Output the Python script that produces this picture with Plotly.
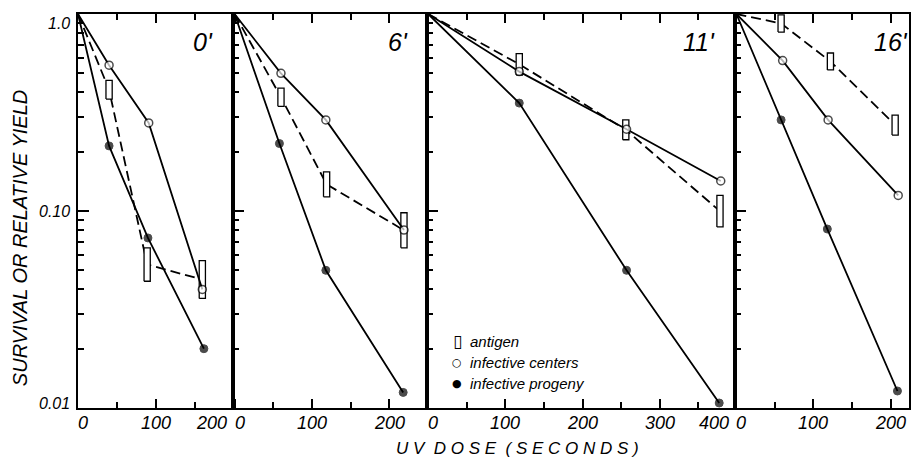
import plotly.graph_objects as go

# ---------------- data ----------------
panel_labels = ["0'", "6'", "11'", "16'"]

# infective centers (open circles)
centers_dose = [[0, 40, 91, 160], [0, 60, 118, 219], [0, 118, 257, 379], [0, 60, 119, 210]]
centers_val = [[1.0, 0.55, 0.28, 0.040], [1.0, 0.50, 0.29, 0.080],
               [1.0, 0.51, 0.26, 0.142], [1.0, 0.58, 0.29, 0.12]]

# infective progeny (filled circles)
progeny_dose = [[0, 40, 90, 162], [0, 58, 118, 218], [0, 118, 257, 377], [0, 58, 118, 209]]
progeny_val = [[1.0, 0.214, 0.073, 0.020], [1.0, 0.22, 0.050, 0.012],
               [1.0, 0.353, 0.050, 0.0106], [1.0, 0.29, 0.081, 0.0122]]

# antigen (open bars: low / high of range)
antigen_dose = [[40, 89, 160], [60, 119, 219], [118, 256, 378], [58, 122, 206]]
antigen_lo = [[0.37, 0.044, 0.036], [0.34, 0.118, 0.065], [0.49, 0.23, 0.083], [0.81, 0.52, 0.243]]
antigen_hi = [[0.46, 0.065, 0.056], [0.42, 0.158, 0.098], [0.63, 0.29, 0.12], [0.99, 0.634, 0.307]]

x_ranges = [[0, 199], [-2.5, 249], [-1.3, 398], [-1.3, 224]]
x_tick_values = [[0, 100, 200], [0, 100, 200], [0, 100, 200, 300, 400], [0, 100, 200]]
x_tick_labels = [["0", "100", "200"], ["0", "100", "200"],
                 ["0", "100", "200", "300", "400"], ["0", "100", "200"]]
y_tick_values = [1.0, 0.10, 0.01]
y_tick_labels = ["1.0", "0.10", "0.01"]
y_minor_values = [0.02, 0.03, 0.04, 0.05, 0.06, 0.07, 0.08, 0.09,
                  0.2, 0.3, 0.4, 0.5, 0.6, 0.7, 0.8, 0.9]

legend_labels = ["antigen", "infective centers", "infective progeny"]
legend_glyphs = ["\u25AF", "\u25CB", "\u25CF"]
legend_glyph_sizes = [17, 11, 11]

# ---------------- layout geometry ----------------
W, H = 911, 457
ML, MR, MT, MB = 78, 0, 14, 49
panel_px = [(78, 233), (233, 428), (428, 737), (737, 911)]
pw = W - ML - MR
ph = H - MT - MB
domains = [[(a - ML) / pw, (b - ML) / pw] for a, b in panel_px]
label_pos = [0.806, 0.851, 0.883, 0.897]

FONT = "Liberation Sans"
BAR_HALF = 4

fig = go.Figure()
line_w = 1.8

for i in range(4):
    xa = "x" if i == 0 else f"x{i+1}"
    ya = "y" if i == 0 else f"y{i+1}"
    mids = [(lo * hi) ** 0.5 for lo, hi in zip(antigen_lo[i], antigen_hi[i])]
    fig.add_trace(go.Scatter(x=[0] + antigen_dose[i], y=[1.0] + mids, mode="lines",
                             line=dict(color="black", width=line_w, dash="10px,5px"),
                             xaxis=xa, yaxis=ya, showlegend=False, hoverinfo="skip"))
    rx, ry = [], []
    for d, lo, hi in zip(antigen_dose[i], antigen_lo[i], antigen_hi[i]):
        rx += [d - BAR_HALF, d + BAR_HALF, d + BAR_HALF, d - BAR_HALF, d - BAR_HALF, None]
        ry += [lo, lo, hi, hi, lo, None]
    fig.add_trace(go.Scatter(x=rx, y=ry, mode="lines", fill="toself", fillcolor="white",
                             line=dict(color="black", width=1.3),
                             xaxis=xa, yaxis=ya, showlegend=False, hoverinfo="skip"))
    fig.add_trace(go.Scatter(x=centers_dose[i], y=centers_val[i], mode="lines+markers",
                             line=dict(color="black", width=line_w),
                             marker=dict(symbol="circle", size=[0, 8, 8, 8], color="white",
                                         line=dict(color="black", width=1.5)),
                             xaxis=xa, yaxis=ya, showlegend=False))
    fig.add_trace(go.Scatter(x=progeny_dose[i], y=progeny_val[i], mode="lines+markers",
                             line=dict(color="black", width=line_w),
                             marker=dict(symbol="circle", size=[0, 8, 8, 8], color="black",
                                         line=dict(color="black", width=1)),
                             xaxis=xa, yaxis=ya, showlegend=False))

annotations = []
for i in range(4):
    xk = "xaxis" if i == 0 else f"xaxis{i+1}"
    yk = "yaxis" if i == 0 else f"yaxis{i+1}"
    ya_name = "y" if i == 0 else f"y{i+1}"
    xa_name = "x" if i == 0 else f"x{i+1}"
    fig.layout[xk] = dict(domain=domains[i], range=x_ranges[i], anchor=ya_name,
                          showgrid=False, zeroline=False, showline=True, linecolor="black",
                          linewidth=1.8, mirror="ticks", ticks="inside", tickmode="linear",
                          tick0=0, dtick=100, ticklen=9, tickwidth=1.5, tickcolor="black",
                          minor=dict(ticks="inside", tickmode="linear", dtick=50, tick0=0,
                                     ticklen=6, tickwidth=1.5, tickcolor="black"),
                          showticklabels=False, fixedrange=True)
    fig.layout[yk] = dict(domain=[0, 1], type="log", range=[-2, 0], anchor=xa_name,
                          showgrid=False, zeroline=False, showline=True, linecolor="black",
                          linewidth=1.8, mirror=True, ticks="inside", tickmode="array",
                          tickvals=y_tick_values, ticklen=11, tickwidth=1.5,
                          tickcolor="black",
                          minor=dict(ticks="inside", tickmode="array", tickvals=y_minor_values,
                                     ticklen=6, tickwidth=1.5, tickcolor="black"),
                          showticklabels=False, fixedrange=True)
    lo_r, hi_r = x_ranges[i]
    for v, t in zip(x_tick_values[i], x_tick_labels[i]):
        if v == 0:
            ax_x, anchor, shift = v, "left", -2
        elif v > hi_r - 10:
            ax_x, anchor, shift = hi_r, "right", -4
        else:
            ax_x, anchor, shift = v, "center", 0
        annotations.append(dict(x=ax_x, xref=xa_name, y=0, yref="paper", text=t,
                                showarrow=False, xanchor=anchor, yanchor="middle",
                                xshift=shift, yshift=-15,
                                font=dict(family=FONT, size=18, color="black", style="italic")))
    annotations.append(dict(x=label_pos[i], xref=f"{xa_name} domain", y=0.93, yref="paper",
                            text=panel_labels[i], showarrow=False, xanchor="center",
                            yanchor="middle",
                            font=dict(family=FONT, size=25, color="black", style="italic")))

y_dom = [1.0, 0.5, 0.0]
y_shift = [-9, 0, 5]
for v, t, yd, ys in zip(y_tick_values, y_tick_labels, y_dom, y_shift):
    annotations.append(dict(x=0, xref="paper", y=yd, yref="y domain", text=t,
                            showarrow=False, xanchor="right", yanchor="middle",
                            xshift=-6, yshift=ys,
                            font=dict(family=FONT, size=16, color="black", style="italic")))

annotations.append(dict(x=(20 - ML) / pw, xref="paper", y=(MT + ph - 238) / ph, yref="paper",
                        text="SURVIVAL OR RELATIVE YIELD", textangle=-90, showarrow=False,
                        xanchor="center", yanchor="middle",
                        font=dict(family=FONT, size=20, color="black", style="italic")))
annotations.append(dict(x=(519 - ML) / pw, xref="paper", y=-(449 - (MT + ph)) / ph,
                        yref="paper",
                        text="U V  D O S E  ( S E C O N D S )", showarrow=False,
                        xanchor="center", yanchor="middle",
                        font=dict(family=FONT, size=17, color="black", style="italic")))

leg_y = [341, 362, 383]
for g, gs, t, py in zip(legend_glyphs, legend_glyph_sizes, legend_labels, leg_y):
    yy = (MT + ph - py) / ph
    annotations.append(dict(x=(458 - ML) / pw, xref="paper", y=yy, yref="paper", text=g,
                            showarrow=False, xanchor="center", yanchor="middle",
                            font=dict(family="DejaVu Sans", size=gs, color="black")))
    annotations.append(dict(x=(469 - ML) / pw, xref="paper", y=yy, yref="paper", text=t,
                            showarrow=False, xanchor="left", yanchor="middle",
                            font=dict(family=FONT, size=15, color="black", style="italic")))

fig.update_layout(width=W, height=H, margin=dict(l=ML, r=MR, t=MT, b=MB),
                  plot_bgcolor="white", paper_bgcolor="white", showlegend=False,
                  annotations=annotations)

fig.write_html("out.html", config={"displayModeBar": False},
               post_script="document.body.style.margin='0';document.body.style.overflow='hidden';")
